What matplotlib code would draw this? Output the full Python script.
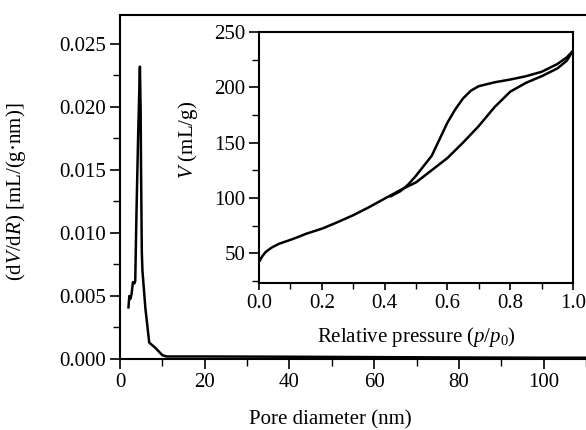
import matplotlib
matplotlib.use("Agg")
import matplotlib.pyplot as plt
from matplotlib.ticker import MultipleLocator

plt.rcParams['font.family'] = ['Liberation Serif', 'DejaVu Serif']
plt.rcParams['mathtext.fontset'] = 'custom'
plt.rcParams['mathtext.rm'] = 'Liberation Serif'
plt.rcParams['mathtext.it'] = 'Liberation Serif:italic'

# Pore size distribution (main plot)
pore_d = [2.0, 2.2, 2.5, 2.75, 3.05, 3.4, 3.6, 3.9, 4.3, 4.7, 4.87, 4.95, 5.15, 5.3, 6.0, 6.9, 8.3, 10.0, 11.0,
          20.0, 40.0, 60.0, 80.0, 100.0, 110.0]
dv_dr = [0.0041, 0.0050, 0.0048, 0.0052, 0.0061, 0.0060, 0.0062, 0.0118, 0.0180, 0.0232, 0.0198, 0.0158,
         0.0085, 0.0070, 0.0040, 0.0013, 0.0009, 0.0003, 0.0002,
         0.0002, 0.00018, 0.00015, 0.00012, 0.0001, 0.0001]

# Isotherm (inset)
p_ads = [0.003, 0.01, 0.021, 0.04, 0.064, 0.10, 0.128, 0.15, 0.203, 0.25, 0.30, 0.35, 0.40, 0.45, 0.50,
         0.55, 0.60, 0.65, 0.70, 0.75, 0.80, 0.85, 0.90, 0.95, 0.98, 1.0]
v_ads = [43.4, 47, 51, 55, 58.5, 62, 65, 67.5, 72.4, 78, 84.3, 91.5, 99.3, 107, 114,
         125, 136, 150, 165, 182, 196, 204, 210, 217, 224, 233]
p_des = [1.0, 0.98, 0.95, 0.90, 0.85, 0.80, 0.75, 0.70, 0.675, 0.65, 0.625, 0.60, 0.575, 0.55, 0.525,
         0.50, 0.475, 0.45, 0.42]
v_des = [233, 227, 221, 214, 210, 207, 204.5, 201, 197, 190, 180, 168, 153, 138, 129,
         120, 112, 106, 101.5]

main_xticks = [0, 20, 40, 60, 80, 100]
main_yticks = [0.000, 0.005, 0.010, 0.015, 0.020, 0.025]
inset_xticks = [0.0, 0.2, 0.4, 0.6, 0.8, 1.0]
inset_yticks = [50, 100, 150, 200, 250]

fs = 15

fig = plt.figure(figsize=(5.86, 4.30), dpi=100)
ax = fig.add_axes([120/586, (430-359)/430, 466/586, (359-15)/430])
ax.plot(pore_d, dv_dr, color='black', lw=1.8)
ax.set_xlim(0, 110)
ax.set_ylim(0, 0.0273)
ax.set_xticks(main_xticks)
ax.set_xticklabels([str(t) for t in main_xticks])
ax.set_yticks(main_yticks)
ax.set_yticklabels([f"{t:.3f}" for t in main_yticks])
ax.xaxis.set_minor_locator(MultipleLocator(10))
ax.yaxis.set_minor_locator(MultipleLocator(0.0025))
ax.spines['right'].set_visible(False)
for s in ['left', 'bottom', 'top']:
    ax.spines[s].set_linewidth(1.5)
ax.tick_params(which='major', direction='out', length=7, width=1.2, labelsize=fs, pad=3)
ax.tick_params(which='minor', direction='out', length=5, width=1.0)
ax.set_xlabel('Pore diameter (nm)', fontsize=fs)
ax.xaxis.set_label_coords((330.5-120)/466, -(410-359)/344)
ax.set_ylabel('(d$V$/d$R$) [mL/(g·nm)]', fontsize=fs)
ax.yaxis.set_label_coords(-(120-28)/466, (359-192)/344)

ins = fig.add_axes([259/586, (430-283)/430, 314/586, 251/430])
ins.plot(p_ads, v_ads, color='black', lw=1.8)
ins.plot(p_des, v_des, color='black', lw=1.8)
ins.set_xlim(0, 1.0)
ins.set_ylim(23, 250)
ins.set_xticks(inset_xticks)
ins.set_xticklabels([f"{t:.1f}" for t in inset_xticks])
ins.set_yticks(inset_yticks)
ins.set_yticklabels([str(t) for t in inset_yticks])
ins.xaxis.set_minor_locator(MultipleLocator(0.1))
ins.yaxis.set_minor_locator(MultipleLocator(25))
for s in ins.spines.values():
    s.set_linewidth(1.5)
ins.tick_params(axis='y', which='major', direction='out', length=7, width=1.2, labelsize=fs, pad=3)
ins.tick_params(axis='y', which='minor', direction='out', length=5, width=1.0)
ins.tick_params(axis='x', which='major', direction='out', length=5, width=1.2, labelsize=fs, pad=3)
ins.tick_params(axis='x', which='minor', direction='out', length=4, width=1.0)
ins.set_xlabel('Relative pressure ($p$/$p_0$)', fontsize=fs)
ins.xaxis.set_label_coords(0.5, -(325-283)/251)
ins.set_ylabel('$V$ (mL/g)', fontsize=fs)
ins.yaxis.set_label_coords(-(259-200)/314, (283-140)/251)

fig.savefig('out.png', dpi=100)
